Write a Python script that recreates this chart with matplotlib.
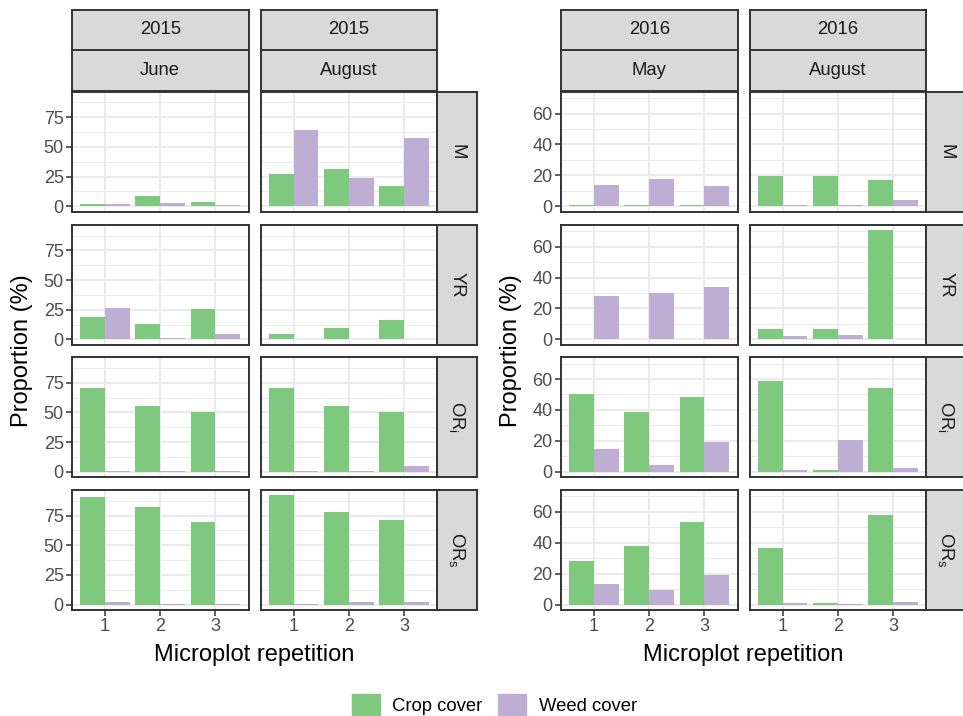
import numpy as np
import matplotlib
matplotlib.use("Agg")
import matplotlib.pyplot as plt
from matplotlib.patches import Patch

plt.rcParams['font.family'] = ['Liberation Sans', 'DejaVu Sans']
plt.rcParams['mathtext.fontset'] = 'custom'
plt.rcParams['mathtext.rm'] = 'Liberation Sans'
plt.rcParams['mathtext.it'] = 'Liberation Sans'

# data: rows are treatments (M, YR, ORi, ORs), values per microplot repetition 1..3
reps = [1, 2, 3]
treatments = ['M', 'YR', r'OR$_\mathregular{i}$', r'OR$_\mathregular{s}$']
months_2015 = ['June', 'August']
months_2016 = ['May', 'August']

crop_2015_june = [[2.0, 8.6, 3.6], [19.2, 12.6, 25.9], [70.6, 55.5, 50.5], [90.4, 82.0, 69.5]]
weed_2015_june = [[2.0, 2.8, 1.1], [26.8, 0.8, 4.2], [0.5, 0.5, 0.8], [2.2, 0.4, 0.8]]
crop_2015_aug = [[27.0, 31.2, 17.0], [4.2, 9.2, 16.7], [70.6, 55.5, 50.5], [92.0, 77.8, 71.1]]
weed_2015_aug = [[63.9, 23.7, 57.2], [0.4, 0.4, 0.4], [0.5, 0.5, 4.5], [0.8, 2.2, 2.2]]

crop_2016_may = [[0.5, 0.5, 0.5], [0.5, 0.5, 0.5], [50.1, 38.4, 48.2], [28.5, 38.2, 53.1]]
weed_2016_may = [[13.8, 17.7, 13.2], [27.9, 29.8, 33.7], [14.5, 4.1, 19.0], [13.0, 9.1, 19.4]]
crop_2016_aug = [[19.7, 19.7, 17.1], [6.5, 6.5, 70.6], [58.5, 0.9, 54.0], [36.3, 1.3, 57.7]]
weed_2016_aug = [[0.9, 0.5, 4.1], [1.9, 2.6, 0.5], [0.9, 20.3, 2.2], [1.3, 0.5, 1.9]]

GREEN = '#7FC97F'
PURPLE = '#BEAED4'
BORDER = '#333333'
GRID = '#EBEBEB'
STRIP = '#D9D9D9'

W, H = 963, 716
fig = plt.figure(figsize=(W / 100, H / 100), dpi=100)


def rect(x0, y0, w, h):
    return [x0 / W, 1 - (y0 + h) / H, w / W, h / H]


def strip(x0, y0, w, h, label, rot=0):
    sa = fig.add_axes(rect(x0, y0, w, h))
    sa.set_facecolor(STRIP)
    sa.set_xticks([])
    sa.set_yticks([])
    for s in sa.spines.values():
        s.set_color(BORDER)
        s.set_linewidth(1.4)
    sa.text(0.5, 0.5, label, transform=sa.transAxes, ha='center', va='center',
            rotation=rot, fontsize=13.3, color='#1A1A1A')


col_w, row_h = 176.5, 120
row_tops = [91.7, 224.8, 357.2, 490.0]
strip_h = 40.8


def draw_block(left, year, months, crops, weeds, major, minor):
    vals = np.array(crops + weeds)
    lo, hi = min(0, vals.min()), vals.max()
    pad = 0.05 * (hi - lo)
    ylim = (lo - pad, hi + pad)
    col_x = [left, left + 188.5]
    for j, month in enumerate(months):
        strip(col_x[j], 9.5, col_w, strip_h, year)
        strip(col_x[j], 9.5 + strip_h, col_w, strip_h, month)
        for i in range(len(treatments)):
            ax = fig.add_axes(rect(col_x[j], row_tops[i], col_w, row_h))
            x = np.array(reps, dtype=float)
            ax.bar(x - 0.225, crops[j][i], width=0.45, color=GREEN, zorder=2)
            ax.bar(x + 0.225, weeds[j][i], width=0.45, color=PURPLE, zorder=2)
            ax.set_xlim(0.4, 3.6)
            ax.set_ylim(*ylim)
            ax.set_xticks(reps)
            ax.set_yticks(major)
            ax.set_yticks(minor, minor=True)
            ax.grid(True, which='major', color=GRID, lw=1.4, zorder=0)
            ax.grid(True, which='minor', axis='y', color=GRID, lw=0.7, zorder=0)
            ax.set_axisbelow(True)
            for s in ax.spines.values():
                s.set_color(BORDER)
                s.set_linewidth(1.4)
            ax.tick_params(which='minor', length=0)
            ax.tick_params(which='major', color=BORDER, width=1.1, length=4,
                           labelsize=13, labelcolor='#4D4D4D', pad=2)
            if j > 0:
                ax.tick_params(axis='y', length=0, labelleft=False)
                strip(col_x[j] + col_w, row_tops[i], 40, row_h, treatments[i], rot=-90)
            if i < len(treatments) - 1:
                ax.tick_params(axis='x', length=0, labelbottom=False)
    cx = (left + left + 188.5 + col_w) / 2
    fig.text(cx / W, 1 - 655 / H, 'Microplot repetition', ha='center', va='center', fontsize=17)
    fig.text((left - 50) / W, 1 - 351 / H, 'Proportion (%)', ha='center', va='center',
             rotation=90, fontsize=17)


draw_block(72, '2015', months_2015, [crop_2015_june, crop_2015_aug],
           [weed_2015_june, weed_2015_aug], [0, 25, 50, 75], [12.5, 37.5, 62.5, 87.5])
draw_block(561, '2016', months_2016, [crop_2016_may, crop_2016_aug],
           [weed_2016_may, weed_2016_aug], [0, 20, 40, 60], [10, 30, 50, 70])

handles = [Patch(color=GREEN, label='Crop cover'), Patch(color=PURPLE, label='Weed cover')]
fig.legend(handles=handles, loc='center', bbox_to_anchor=(494.5 / W, 1 - 705 / H), ncol=2,
           frameon=False, fontsize=13.3, handlelength=1.5, handleheight=1.5,
           handletextpad=0.7, columnspacing=0.85, borderpad=0)

fig.savefig('out.png', dpi=100)
